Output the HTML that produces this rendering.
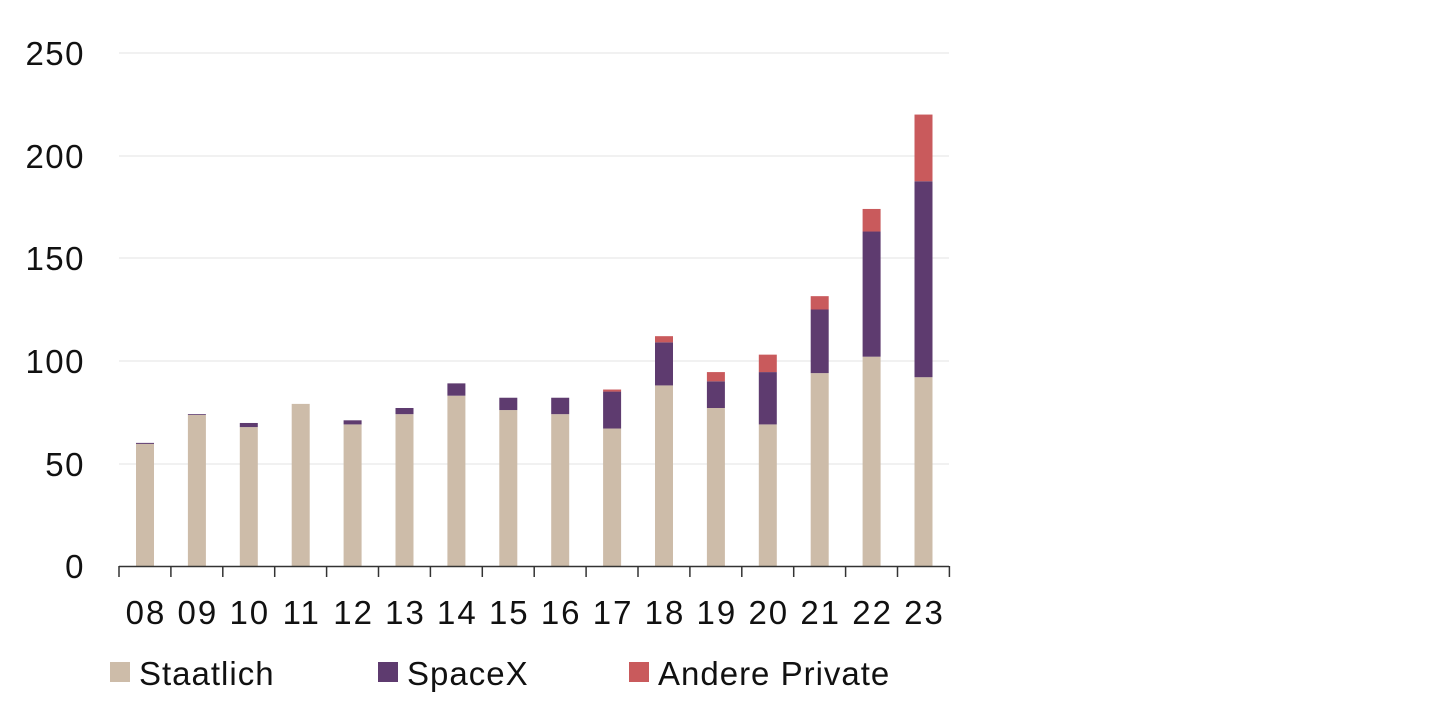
<!DOCTYPE html>
<html><head><meta charset="utf-8"><style>
body{margin:0;background:#fff;width:1440px;height:720px;overflow:hidden}
text{font-family:"Liberation Sans",sans-serif;fill:#111}
</style></head><body>
<svg width="1440" height="720" xmlns="http://www.w3.org/2000/svg">
<g stroke="#e3e3e3" stroke-width="1">
<line x1="119" x2="949" y1="53" y2="53"/><line x1="119" x2="949" y1="156" y2="156"/>
<line x1="119" x2="949" y1="258" y2="258"/><line x1="119" x2="949" y1="361" y2="361"/>
<line x1="119" x2="949" y1="464" y2="464"/>
</g>
<g font-size="33" text-anchor="end" letter-spacing="1.5">
<text x="85" y="65">250</text>
<text x="85" y="168">200</text><text x="85" y="270">150</text>
<text x="85" y="373">100</text><text x="85" y="476">50</text><text x="85" y="578">0</text>
</g>
<g id="bars"></g>
<line x1="119" x2="949" y1="566.5" y2="566.5" stroke="#333" stroke-width="1.5"/>
<g id="ticks" stroke="#333" stroke-width="1.5"></g>
<g id="xl" font-size="33" text-anchor="middle" letter-spacing="2"></g>
<g font-size="33" letter-spacing="1">
<rect x="110" y="662" width="20" height="20" fill="#cdbca9"/>
<text x="139" y="685">Staatlich</text>
<rect x="378" y="662" width="20" height="20" fill="#5e3b6f"/>
<text x="407" y="685">SpaceX</text>
<rect x="629" y="662" width="20" height="20" fill="#c95a5c"/>
<text x="658" y="685">Andere Private</text>
</g>
</svg>
<script>
const d=[[59.5,0.5,0],[73.6,0.4,0],[67.7,2,0],[79,0,0],[69,2,0],[74,3,0],[83,6,0],[76,6,0],[74,8,0],[67,18,1],[88,21,3],[77,13,4.5],[69,25.5,8.5],[94,31,6.5],[102,61,11],[92,95.5,32.5]];
const lbl=["08","09","10","11","12","13","14","15","16","17","18","19","20","21","22","23"];
const ns="http://www.w3.org/2000/svg",b=document.getElementById("bars"),t=document.getElementById("ticks"),xl=document.getElementById("xl");
const cols=["#cdbca9","#5e3b6f","#c95a5c"],k=2.052;
function el(n,a,p){const e=document.createElementNS(ns,n);for(const q in a)e.setAttribute(q,a[q]);p.appendChild(e);return e;}
d.forEach((v,i)=>{const cx=145+i*51.9;let y=566;v.forEach((h,j)=>{if(h<=0)return;const hh=h*k;y-=hh;el("rect",{x:cx-9,y:y,width:18,height:hh,fill:cols[j]},b);});
const tx=el("text",{x:cx+1,y:624},xl);tx.textContent=lbl[i];});
for(let i=0;i<=16;i++){const x=119+i*51.9;el("line",{x1:x,x2:x,y1:566,y2:577},t);}
</script>
</body></html>
